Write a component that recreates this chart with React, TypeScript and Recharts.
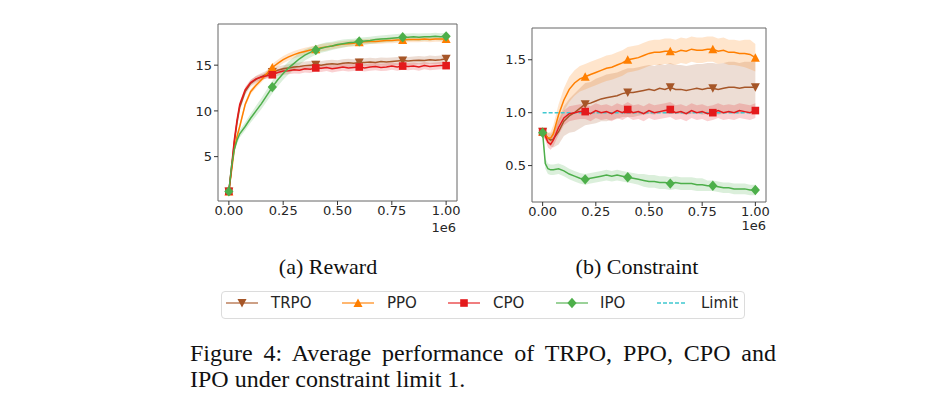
import React from 'react';
import { ComposedChart, Line, Area, XAxis, YAxis, ReferenceLine, ReferenceArea } from 'recharts';

// ---------- data ----------
const STEPS = [0, 0.0125, 0.025, 0.0375, 0.05, 0.075, 0.1, 0.125, 0.15, 0.175, 0.2, 0.225, 0.25, 0.275, 0.3, 0.325, 0.35, 0.375, 0.4, 0.425, 0.45, 0.475, 0.5, 0.525, 0.55, 0.575, 0.6, 0.625, 0.65, 0.675, 0.7, 0.725, 0.75, 0.775, 0.8, 0.825, 0.85, 0.875, 0.9, 0.925, 0.95, 0.975, 1.0];
const MARKER_STEPS = [0, 0.2, 0.4, 0.6, 0.8, 1.0];
const X_TICKS = [0, 0.25, 0.5, 0.75, 1.0];
const REWARD_TICKS = [5, 10, 15];
const CONSTRAINT_TICKS = [0.5, 1.0, 1.5];
const LIMIT = 1.0;

const rewardTRPO = [1.2, 3.7, 6.5, 8.7, 10.4, 12.1, 13.0, 13.45, 13.75, 14.0, 14.25, 14.45, 14.6, 14.7, 14.8, 14.85, 14.95, 15.0, 15.05, 15.0, 15.1, 15.15, 15.1, 15.2, 15.25, 15.2, 15.3, 15.3, 15.35, 15.3, 15.4, 15.35, 15.4, 15.45, 15.5, 15.45, 15.5, 15.55, 15.5, 15.6, 15.55, 15.6, 15.7];
const rewardTRPOSpread = [0.1, 0.2, 0.3, 0.35, 0.35, 0.35, 0.35, 0.4, 0.4, 0.4, 0.4, 0.4, 0.4, 0.4, 0.45, 0.45, 0.45, 0.45, 0.45, 0.45, 0.45, 0.45, 0.45, 0.45, 0.45, 0.45, 0.45, 0.45, 0.45, 0.45, 0.45, 0.45, 0.45, 0.45, 0.45, 0.45, 0.45, 0.45, 0.45, 0.45, 0.45, 0.45, 0.45];
const rewardPPO = [1.2, 3.5, 5.8, 7.2, 8.3, 10.7, 12.1, 12.8, 13.4, 14.1, 14.75, 15.2, 15.6, 15.9, 16.15, 16.35, 16.5, 16.65, 16.75, 16.9, 17.0, 17.1, 17.2, 17.3, 17.35, 17.4, 17.5, 17.55, 17.6, 17.6, 17.65, 17.7, 17.7, 17.75, 17.75, 17.8, 17.8, 17.8, 17.85, 17.8, 17.85, 17.85, 17.85];
const rewardPPOSpread = [0.1, 0.2, 0.3, 0.3, 0.3, 0.3, 0.3, 0.3, 0.3, 0.35, 0.4, 0.4, 0.4, 0.4, 0.4, 0.4, 0.4, 0.4, 0.4, 0.4, 0.4, 0.35, 0.35, 0.35, 0.35, 0.35, 0.3, 0.3, 0.3, 0.3, 0.3, 0.3, 0.3, 0.3, 0.3, 0.3, 0.3, 0.3, 0.3, 0.3, 0.3, 0.3, 0.3];
const rewardCPO = [1.2, 3.9, 6.8, 9.0, 10.7, 12.3, 13.1, 13.5, 13.7, 13.85, 13.95, 14.2, 14.35, 14.4, 14.5, 14.45, 14.6, 14.55, 14.7, 14.65, 14.75, 14.6, 14.7, 14.8, 14.7, 14.75, 14.8, 14.7, 14.8, 14.85, 14.75, 14.8, 14.9, 14.8, 14.9, 14.85, 14.9, 14.8, 14.95, 14.85, 14.9, 14.95, 14.95];
const rewardCPOSpread = [0.1, 0.25, 0.3, 0.3, 0.3, 0.3, 0.3, 0.3, 0.3, 0.3, 0.35, 0.35, 0.4, 0.4, 0.4, 0.4, 0.4, 0.4, 0.4, 0.4, 0.4, 0.4, 0.4, 0.4, 0.4, 0.4, 0.4, 0.4, 0.4, 0.4, 0.4, 0.4, 0.4, 0.4, 0.4, 0.4, 0.4, 0.4, 0.4, 0.4, 0.4, 0.4, 0.4];
const rewardIPO = [1.2, 4.0, 5.8, 6.8, 7.5, 8.3, 9.2, 10.0, 10.8, 11.7, 12.6, 13.4, 14.1, 14.7, 15.2, 15.7, 16.1, 16.4, 16.65, 16.85, 17.0, 17.1, 17.25, 17.35, 17.45, 17.5, 17.6, 17.65, 17.7, 17.8, 17.85, 17.9, 17.95, 18.0, 18.05, 18.05, 18.1, 18.05, 18.1, 18.1, 18.15, 18.1, 18.15];
const rewardIPOSpread = [0.1, 0.3, 0.4, 0.4, 0.4, 0.45, 0.5, 0.55, 0.6, 0.65, 0.7, 0.7, 0.7, 0.7, 0.7, 0.65, 0.6, 0.55, 0.5, 0.5, 0.5, 0.45, 0.45, 0.45, 0.4, 0.4, 0.4, 0.4, 0.4, 0.4, 0.4, 0.4, 0.4, 0.4, 0.4, 0.4, 0.4, 0.4, 0.4, 0.4, 0.4, 0.4, 0.4];

const costTRPO = [0.82, 0.79, 0.76, 0.74, 0.75, 0.82, 0.92, 0.97, 1.0, 1.04, 1.08, 1.09, 1.11, 1.13, 1.14, 1.15, 1.16, 1.18, 1.19, 1.19, 1.2, 1.21, 1.22, 1.21, 1.23, 1.22, 1.24, 1.22, 1.22, 1.21, 1.22, 1.23, 1.22, 1.23, 1.23, 1.22, 1.23, 1.24, 1.24, 1.23, 1.24, 1.24, 1.24];
const costTRPOSpread = [0.03, 0.04, 0.05, 0.06, 0.08, 0.12, 0.14, 0.16, 0.18, 0.19, 0.2, 0.2, 0.21, 0.21, 0.22, 0.22, 0.22, 0.22, 0.23, 0.23, 0.23, 0.23, 0.23, 0.23, 0.23, 0.23, 0.23, 0.23, 0.23, 0.23, 0.23, 0.23, 0.24, 0.24, 0.24, 0.24, 0.24, 0.24, 0.24, 0.24, 0.24, 0.24, 0.24];
const costPPO = [0.82, 0.79, 0.76, 0.76, 0.8, 0.98, 1.12, 1.22, 1.28, 1.32, 1.34, 1.36, 1.38, 1.4, 1.42, 1.43, 1.45, 1.47, 1.5, 1.51, 1.52, 1.54, 1.56, 1.57, 1.57, 1.58, 1.58, 1.57, 1.59, 1.58, 1.6, 1.59, 1.59, 1.6, 1.6, 1.58, 1.59, 1.57, 1.57, 1.56, 1.56, 1.55, 1.52];
const costPPOSpread = [0.03, 0.04, 0.05, 0.06, 0.08, 0.1, 0.11, 0.12, 0.12, 0.12, 0.12, 0.12, 0.12, 0.12, 0.12, 0.12, 0.12, 0.12, 0.12, 0.12, 0.12, 0.12, 0.12, 0.12, 0.12, 0.12, 0.12, 0.12, 0.12, 0.12, 0.12, 0.12, 0.12, 0.12, 0.12, 0.12, 0.12, 0.12, 0.12, 0.12, 0.13, 0.14, 0.13];
const costCPO = [0.82, 0.78, 0.72, 0.7, 0.74, 0.86, 0.95, 0.99, 1.0, 1.01, 1.01, 0.99, 1.02, 1.0, 1.01, 0.99, 1.02, 1.0, 1.03, 1.0, 1.01, 0.99, 1.02, 1.0, 1.01, 1.02, 1.03, 1.0, 1.01, 0.99, 1.02, 1.0, 1.01, 0.99, 1.0, 1.02, 1.0, 1.01, 1.0, 1.02, 1.01, 1.0, 1.02];
const costCPOSpread = [0.03, 0.04, 0.05, 0.05, 0.06, 0.07, 0.07, 0.07, 0.07, 0.07, 0.07, 0.07, 0.07, 0.07, 0.07, 0.07, 0.07, 0.07, 0.07, 0.07, 0.07, 0.07, 0.07, 0.07, 0.07, 0.07, 0.07, 0.07, 0.07, 0.07, 0.07, 0.07, 0.07, 0.07, 0.07, 0.07, 0.07, 0.07, 0.07, 0.07, 0.07, 0.07, 0.07];
const costIPO = [0.81, 0.52, 0.47, 0.46, 0.46, 0.47, 0.45, 0.42, 0.4, 0.38, 0.37, 0.38, 0.39, 0.4, 0.41, 0.4, 0.41, 0.4, 0.39, 0.38, 0.37, 0.36, 0.35, 0.35, 0.34, 0.34, 0.33, 0.34, 0.33, 0.33, 0.33, 0.32, 0.32, 0.31, 0.31, 0.3, 0.29, 0.29, 0.28, 0.28, 0.28, 0.27, 0.27];
const costIPOSpread = [0.03, 0.05, 0.05, 0.05, 0.05, 0.05, 0.05, 0.05, 0.05, 0.05, 0.05, 0.05, 0.05, 0.05, 0.05, 0.05, 0.05, 0.05, 0.05, 0.05, 0.05, 0.06, 0.06, 0.06, 0.06, 0.06, 0.06, 0.06, 0.06, 0.06, 0.06, 0.06, 0.06, 0.05, 0.05, 0.05, 0.05, 0.05, 0.05, 0.05, 0.05, 0.05, 0.05];

const SERIES_NAMES = ['TRPO', 'PPO', 'CPO', 'IPO'];
const CAPTION_A = '(a) Reward';
const CAPTION_B = '(b) Constraint';
const FIGURE_CAPTION = 'Figure 4: Average performance of TRPO, PPO, CPO and IPO under constraint limit 1.';

// ---------- styling ----------
const COLORS: Record<string, string> = { TRPO: '#a65628', PPO: '#ff7f00', CPO: '#e41a1c', IPO: '#4daf4a' };
const LIMIT_COLOR = '#3fc8d0';
const SHAPES: Record<string, string> = { TRPO: 'down', PPO: 'up', CPO: 'square', IPO: 'diamond' };
const SANS = '"DejaVu Sans", sans-serif';
const SERIF = '"Liberation Serif", "Times New Roman", serif';

function buildRows(means: number[][], spreads: number[][]) {
  return STEPS.map((x, i) => {
    const row: any = { x };
    SERIES_NAMES.forEach((n, k) => {
      row[n] = means[k][i];
      row[n + 'Band'] = [means[k][i] - spreads[k][i], means[k][i] + spreads[k][i]];
    });
    return row;
  });
}

const rewardRows = buildRows(
  [rewardTRPO, rewardPPO, rewardCPO, rewardIPO],
  [rewardTRPOSpread, rewardPPOSpread, rewardCPOSpread, rewardIPOSpread]
);
const costRows = buildRows(
  [costTRPO, costPPO, costCPO, costIPO],
  [costTRPOSpread, costPPOSpread, costCPOSpread, costIPOSpread]
);

function MarkerShape({ shape, cx, cy, color }: { shape: string; cx: number; cy: number; color: string }) {
  if (shape === 'down')
    return <polygon points={`${cx - 4.5},${cy - 4} ${cx + 4.5},${cy - 4} ${cx},${cy + 4.5}`} fill={color} />;
  if (shape === 'up')
    return <polygon points={`${cx - 4.5},${cy + 4} ${cx + 4.5},${cy + 4} ${cx},${cy - 4.5}`} fill={color} />;
  if (shape === 'square') return <rect x={cx - 3.8} y={cy - 3.8} width={7.6} height={7.6} fill={color} />;
  return <polygon points={`${cx},${cy - 5.2} ${cx + 4.6},${cy} ${cx},${cy + 5.2} ${cx - 4.6},${cy}`} fill={color} />;
}

function makeDot(name: string) {
  return (props: any) => {
    const { cx, cy, payload, index } = props;
    if (!MARKER_STEPS.includes(payload.x) || cx == null || cy == null) return <g key={`d${name}${index}`} />;
    return (
      <g key={`d${name}${index}`}>
        <MarkerShape shape={SHAPES[name]} cx={cx} cy={cy} color={COLORS[name]} />
      </g>
    );
  };
}

const tickStyle = { fontFamily: SANS, fontSize: 13, fill: '#262626' };

function Panel({ rows, yDomain, yTicks, showLimit, yFmt, margin }: any) {
  const children: any[] = [];
  SERIES_NAMES.forEach((n) => {
    children.push(
      <Area
        key={n + 'band'}
        dataKey={n + 'Band'}
        type="linear"
        stroke="none"
        fill={COLORS[n]}
        fillOpacity={0.2}
        isAnimationActive={false}
        activeDot={false}
      />
    );
    children.push(
      <Line
        key={n + 'line'}
        dataKey={n}
        type="linear"
        stroke={COLORS[n]}
        strokeWidth={1.5}
        dot={makeDot(n)}
        activeDot={false}
        isAnimationActive={false}
      />
    );
  });
  return (
    <ComposedChart width={300} height={230} data={rows} margin={margin}>
      <XAxis
        dataKey="x"
        type="number"
        domain={[-0.05, 1.05]}
        ticks={X_TICKS}
        allowDataOverflow
        tickFormatter={(v: number) => v.toFixed(2)}
        tick={tickStyle}
        tickLine={{ stroke: '#333' }}
        tickSize={4}
        tickMargin={1}
        axisLine={false}
        height={30}
        interval={0}
      />
      <YAxis
        type="number"
        domain={yDomain}
        ticks={yTicks}
        allowDataOverflow
        tickFormatter={yFmt}
        tick={tickStyle}
        tickLine={{ stroke: '#333' }}
        tickSize={4}
        tickMargin={2}
        axisLine={false}
        width={48}
        interval={0}
      />
      <ReferenceArea
        x1={-0.05}
        x2={1.05}
        y1={yDomain[0]}
        y2={yDomain[1]}
        fill="#ffffff"
        fillOpacity={0}
        stroke="#666"
        strokeWidth={1}
        ifOverflow="visible"
      />
      {showLimit && (
        <ReferenceLine
          segment={[{ x: 0, y: LIMIT }, { x: 1, y: LIMIT }]}
          stroke={LIMIT_COLOR}
          strokeWidth={1.5}
          strokeDasharray="4 2"
        />
      )}
      {children}
    </ComposedChart>
  );
}

function LegendItem({ name, lineLeft, textLeft }: { name: string; lineLeft: number; textLeft: number }) {
  const isLimit = name === 'Limit';
  const color = isLimit ? LIMIT_COLOR : COLORS[name];
  return (
    <>
      <svg style={{ position: 'absolute', left: lineLeft, top: 294 }} width={32} height={18}>
        <line
          x1={0}
          x2={isLimit ? 30 : 32}
          y1={9}
          y2={9}
          stroke={color}
          strokeOpacity={isLimit ? 1 : 0.75}
          strokeWidth={1.5}
          strokeDasharray={isLimit ? '4 2' : undefined}
        />
        {!isLimit && <MarkerShape shape={SHAPES[name]} cx={16} cy={9} color={color} />}
      </svg>
      <div
        style={{
          position: 'absolute',
          left: textLeft,
          top: 294,
          lineHeight: '18px',
          fontSize: 15,
          fontFamily: SANS,
          color: '#262626',
          whiteSpace: 'nowrap',
        }}
      >
        {name}
      </div>
    </>
  );
}

export default function App() {
  return (
    <div style={{ position: 'absolute', left: 0, top: 0, width: 952, height: 419, background: '#fff', overflow: 'hidden' }}>
      <div style={{ position: 'absolute', left: 170, top: 10 }}>
        <Panel
          rows={rewardRows}
          yDomain={[0.15, 19.5]}
          yTicks={REWARD_TICKS}
          yFmt={(v: number) => String(v)}
          margin={{ top: 14, right: 13, bottom: 9, left: 0 }}
        />
      </div>
      <div style={{ position: 'absolute', left: 484, top: 10 }}>
        <Panel
          rows={costRows}
          yDomain={[0.156, 1.8]}
          yTicks={CONSTRAINT_TICKS}
          yFmt={(v: number) => v.toFixed(1)}
          showLimit
          margin={{ top: 18, right: 18, bottom: 8, left: 0 }}
        />
      </div>
      <div style={{ position: 'absolute', right: 952 - 456, top: 220, fontFamily: SANS, fontSize: 13, color: '#262626', lineHeight: '16px' }}>1e6</div>
      <div style={{ position: 'absolute', right: 952 - 766, top: 218, fontFamily: SANS, fontSize: 13, color: '#262626', lineHeight: '16px' }}>1e6</div>

      <div style={{ position: 'absolute', left: 228, width: 200, top: 255, textAlign: 'center', fontFamily: SERIF, fontSize: 22, lineHeight: '24px', color: '#111' }}>{CAPTION_A}</div>
      <div style={{ position: 'absolute', left: 537, width: 200, top: 255, textAlign: 'center', fontFamily: SERIF, fontSize: 22, lineHeight: '24px', color: '#111' }}>{CAPTION_B}</div>

      <div style={{ position: 'absolute', left: 221, top: 291, width: 524, height: 28, boxSizing: 'border-box', border: '1px solid #dcdcdc', borderRadius: 4 }} />
      <LegendItem name="TRPO" lineLeft={226} textLeft={271} />
      <LegendItem name="PPO" lineLeft={342} textLeft={387} />
      <LegendItem name="CPO" lineLeft={448} textLeft={493} />
      <LegendItem name="IPO" lineLeft={556} textLeft={600} />
      <LegendItem name="Limit" lineLeft={657} textLeft={701} />

      <div style={{ position: 'absolute', left: 190, top: 340, width: 586, fontFamily: SERIF, fontSize: 24, lineHeight: '26px', textAlign: 'justify', color: '#111' }}>
        {FIGURE_CAPTION}
      </div>
    </div>
  );
}
